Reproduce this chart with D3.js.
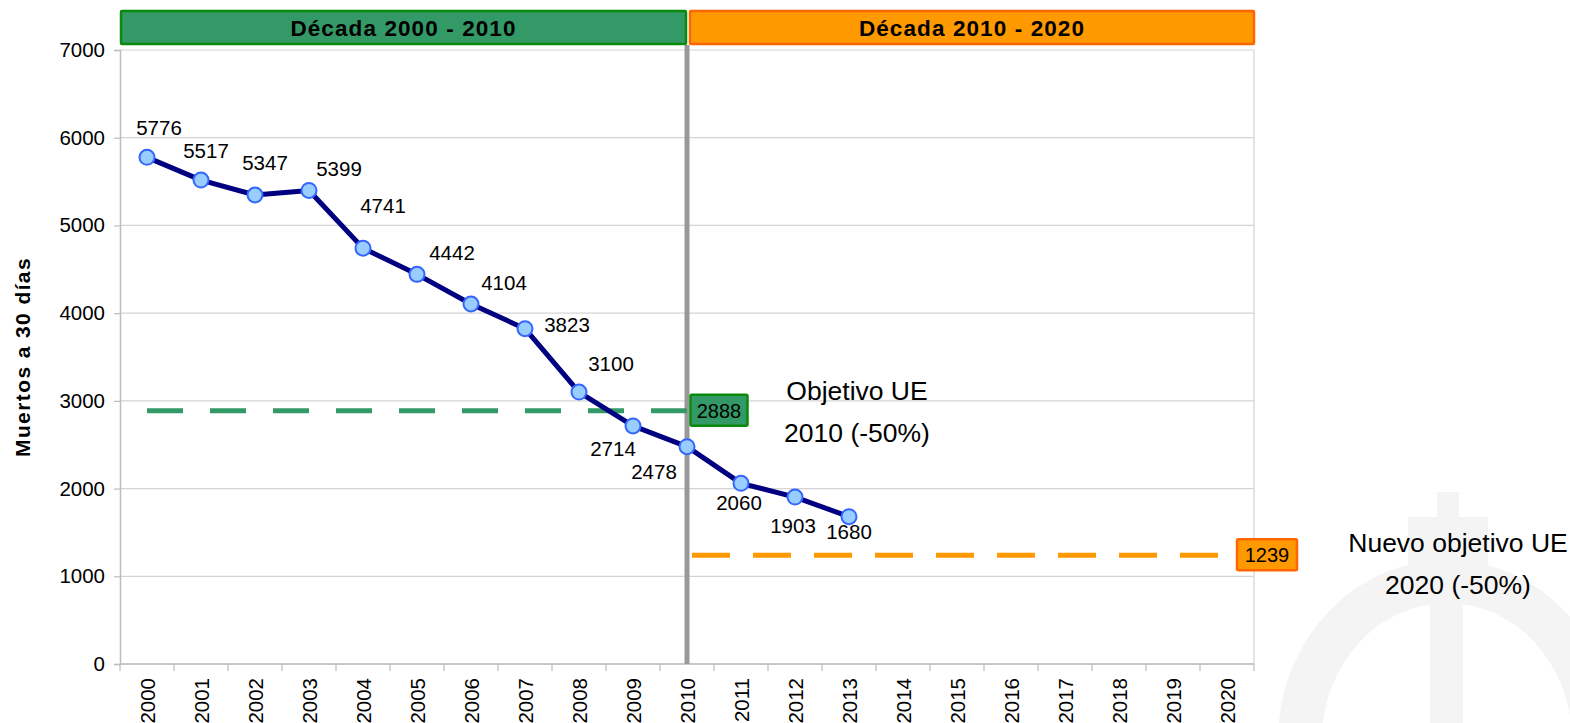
<!DOCTYPE html>
<html>
<head>
<meta charset="utf-8">
<script src="https://cdn.jsdelivr.net/npm/d3@7"></script>
<style>
  body { margin: 0; background: #fff; }
  text { font-family: "Liberation Sans", Arial, sans-serif; }
</style>
</head>
<body>
<script>
var years = ["2000","2001","2002","2003","2004","2005","2006","2007","2008","2009","2010",
             "2011","2012","2013","2014","2015","2016","2017","2018","2019","2020"];
var deaths = [5776, 5517, 5347, 5399, 4741, 4442, 4104, 3823, 3100, 2714, 2478, 2060, 1903, 1680];
var yTicks = [0, 1000, 2000, 3000, 4000, 5000, 6000, 7000];
var target2010 = 2888;
var target2020 = 1239;
var decades = ["Década 2000 - 2010", "Década 2010 - 2020"];

// label nudges (dx, dy) so the numbers sit where the original has them
var labelNudge = [[12,-30],[5,-29],[10,-32],[30,-22],[20,-42],[35,-22],[33,-21],[42,-4],
                  [32,-28],[-20,23],[-33,25],[-2,20],[-2,29],[0,15]];

var W = 1570, H = 723;
var plotL = 120, plotR = 1254, plotT = 50, plotB = 664;

var svg = d3.select("body").append("svg")
  .attr("width", W).attr("height", H);

// faint logo watermark bottom right
var wm = svg.append("g").attr("fill", "#f4f4f4");
wm.append("ellipse").attr("cx", 1447).attr("cy", 740).attr("rx", 169).attr("ry", 180);
wm.append("ellipse").attr("cx", 1447).attr("cy", 740).attr("rx", 125).attr("ry", 137).attr("fill", "#fff");
wm.append("rect").attr("x", 1408).attr("y", 517).attr("width", 80).attr("height", 50);
wm.append("rect").attr("x", 1430).attr("y", 517).attr("width", 33).attr("height", 210);
wm.append("rect").attr("x", 1437).attr("y", 492).attr("width", 22).attr("height", 26);

var x = d3.scaleBand().domain(years).range([plotL, plotR]).padding(0);
var y = d3.scaleLinear().domain([0, 7000]).range([plotB, plotT]);
var cx = function(yr) { return x(yr) + x.bandwidth() / 2; };

// grid
svg.append("g").selectAll("line").data(yTicks).enter().append("line")
  .attr("x1", plotL).attr("x2", plotR)
  .attr("y1", function(d) { return y(d); }).attr("y2", function(d) { return y(d); })
  .attr("stroke", "#d4d4d4").attr("stroke-width", 1.2);
svg.append("line").attr("x1", plotR).attr("x2", plotR).attr("y1", plotT).attr("y2", plotB)
  .attr("stroke", "#d4d4d4").attr("stroke-width", 1.2);

// y axis
var yAxis = d3.axisLeft(y).tickValues(yTicks).tickSize(6).tickPadding(9).tickFormat(d3.format("d"));
var ya = svg.append("g").attr("transform", "translate(" + plotL + ",0)").call(yAxis);
ya.select(".domain").attr("stroke", "#bdbdbd").attr("stroke-width", 1.5);
ya.selectAll(".tick line").attr("stroke", "#bdbdbd").attr("stroke-width", 1.2);
ya.selectAll("text").attr("font-size", 20.5).attr("fill", "#000")
  .style("font-family", "'Liberation Sans', Arial, sans-serif");

// x axis
var xa = svg.append("g");
xa.append("line").attr("x1", plotL).attr("x2", plotR).attr("y1", plotB).attr("y2", plotB)
  .attr("stroke", "#bdbdbd").attr("stroke-width", 1.5);
xa.selectAll(".xt").data(years.concat(["end"])).enter().append("line")
  .attr("x1", function(d) { return d === "end" ? plotR : x(d); })
  .attr("x2", function(d) { return d === "end" ? plotR : x(d); })
  .attr("y1", plotB).attr("y2", plotB + 7)
  .attr("stroke", "#bdbdbd").attr("stroke-width", 1.2);
xa.selectAll("text").data(years).enter().append("text")
  .attr("transform", function(d) { return "translate(" + (cx(d) + 7.5) + "," + (plotB + 14) + ") rotate(-90)"; })
  .attr("text-anchor", "end")
  .attr("font-size", 20.5)
  .text(function(d) { return d; });

// y title
svg.append("text")
  .attr("transform", "translate(30," + ((plotT + plotB) / 2) + ") rotate(-90)")
  .attr("text-anchor", "middle")
  .attr("font-size", 21).attr("font-weight", "bold").attr("letter-spacing", 1.4)
  .text("Muertos a 30 días");

// decade headers
var mid = cx("2010");
var headers = [
  { x0: plotL, x1: mid, fill: "#339966", stroke: "#0a8a0a" },
  { x0: mid + 2, x1: plotR + 1, fill: "#ff9900", stroke: "#ff6600" }
];
headers.forEach(function(h, i) {
  svg.append("rect").attr("x", h.x0 + 1).attr("y", 11).attr("width", h.x1 - h.x0 - 2).attr("height", 33)
    .attr("fill", h.fill).attr("stroke", h.stroke).attr("stroke-width", 2.5).attr("rx", 1);
  svg.append("text").attr("x", (h.x0 + h.x1) / 2).attr("y", 36)
    .attr("text-anchor", "middle").attr("font-size", 22.5).attr("font-weight", "bold")
    .attr("letter-spacing", 1.1)
    .text(decades[i]);
});

// vertical divider at 2010
svg.append("line").attr("x1", mid).attr("x2", mid).attr("y1", 45).attr("y2", plotB)
  .attr("stroke", "#999999").attr("stroke-width", 5);

// target lines
svg.append("line").attr("x1", cx("2000")).attr("x2", mid)
  .attr("y1", y(target2010)).attr("y2", y(target2010))
  .attr("stroke", "#339966").attr("stroke-width", 5).attr("stroke-dasharray", "36,27");
svg.append("line").attr("x1", mid + 5).attr("x2", plotR - 18)
  .attr("y1", y(target2020)).attr("y2", y(target2020))
  .attr("stroke", "#ff9900").attr("stroke-width", 5).attr("stroke-dasharray", "38,23");

// target value boxes
function valueBox(cxv, v, fill, stroke, w) {
  svg.append("rect").attr("x", cxv - w / 2).attr("y", y(v) - 16).attr("width", w).attr("height", 31)
    .attr("fill", fill).attr("stroke", stroke).attr("stroke-width", 2.5).attr("rx", 1.5);
  svg.append("text").attr("x", cxv).attr("y", y(v))
    .attr("dy", "0.35em").attr("text-anchor", "middle").attr("font-size", 20)
    .text(v);
}
valueBox(mid + 32, target2010, "#339966", "#0a8a0a", 57);
valueBox(plotR + 13, target2020, "#ff9900", "#ff6600", 60);

// annotations
function note(xc, y1, lines) {
  lines.forEach(function(t, i) {
    svg.append("text").attr("x", xc).attr("y", y1 + i * 42)
      .attr("text-anchor", "middle").attr("font-size", 26.5).text(t);
  });
}
note(cx("2013") + 8, 400, ["Objetivo UE", "2010 (-50%)"]);
note(1458, 552, ["Nuevo objetivo UE", "2020 (-50%)"]);

// series
var pts = deaths.map(function(v, i) { return { year: years[i], v: v, i: i }; });
var line = d3.line().x(function(d) { return cx(d.year); }).y(function(d) { return y(d.v); });
svg.append("path").datum(pts).attr("d", line)
  .attr("fill", "none").attr("stroke", "#000080").attr("stroke-width", 5)
  .attr("stroke-linejoin", "round");
svg.selectAll(".pt").data(pts).enter().append("circle")
  .attr("cx", function(d) { return cx(d.year); })
  .attr("cy", function(d) { return y(d.v); })
  .attr("r", 7.5)
  .attr("fill", "#99ccff").attr("stroke", "#3366ff").attr("stroke-width", 2);
svg.selectAll(".lbl").data(pts).enter().append("text")
  .attr("x", function(d) { return cx(d.year) + labelNudge[d.i][0]; })
  .attr("y", function(d) { return y(d.v) + labelNudge[d.i][1]; })
  .attr("dy", "0.35em").attr("text-anchor", "middle").attr("font-size", 20.5)
  .text(function(d) { return d.v; });
</script>
</body>
</html>
